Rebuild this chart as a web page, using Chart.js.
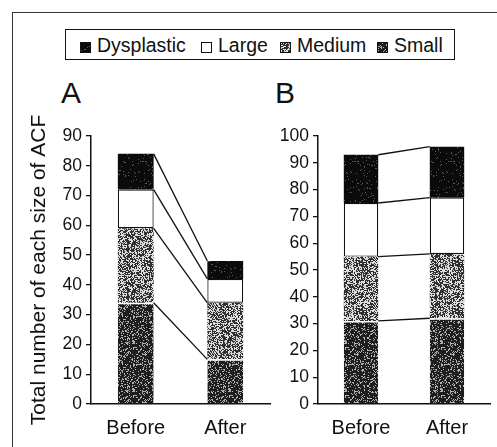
<!DOCTYPE html>
<html>
<head>
<meta charset="utf-8">
<script src="https://cdn.jsdelivr.net/npm/chart.js@4"></script>
<style>
  body { margin: 0; background: #fff; font-family: "Liberation Sans", Arial, sans-serif; color: #111; }
  #page { position: relative; width: 497px; height: 447px; overflow: hidden; }
  .frame { position: absolute; left: 12px; top: 12px; width: 500px; height: 450px; border-left: 1.5px solid #333; border-top: 1.5px solid #333; }
  #legend { position: absolute; left: 65px; top: 29px; width: 388px; height: 29px; border: 1.5px solid #111; }
  .item { position: absolute; top: 0; height: 29px; line-height: 30px; font-size: 19.5px; white-space: nowrap; }
  .mk { display: inline-block; width: 9px; height: 9px; border: 1px solid #111; margin-right: 6px; vertical-align: -1px; background: #fff; }
  .panel { position: absolute; top: 78px; font-size: 30px; line-height: 1; }
  .cv { position: absolute; top: 100px; height: 360px; }
</style>
</head>
<body>
<div id="page">
  <div class="frame"></div>
  <div id="legend">
    <span class="item" style="left:14px"><span class="mk" id="mkDys"></span>Dysplastic</span>
    <span class="item" style="left:135px"><span class="mk"></span>Large</span>
    <span class="item" style="left:214px"><span class="mk" id="mkMed"></span>Medium</span>
    <span class="item" style="left:311px"><span class="mk" id="mkSmall"></span>Small</span>
  </div>
  <div class="panel" style="left:61px">A</div>
  <div class="panel" style="left:275px">B</div>
  <canvas id="chartA" class="cv" style="left:0;width:280px"></canvas>
  <canvas id="chartB" class="cv" style="left:260px;width:237px"></canvas>
</div>
<script>
// data
const periods = ['Before', 'After'];
const sizeNames = ['Small', 'Medium', 'Large', 'Dysplastic'];

const smallA = [34, 15];
const mediumA = [25, 19];
const largeA = [13, 8];
const dysA = [12, 6];
const maxA = 90;

const smallB = [31, 32];
const mediumB = [24, 24];
const largeB = [20, 21];
const dysB = [18, 19];
const maxB = 100;

const yTitle = 'Total number of each size of ACF';

// stipple tiles, like the scanned halftone
function speckle(base, dots, density, seed) {
    var c = document.createElement('canvas');
    c.width = c.height = 48;
    var g = c.getContext('2d');
    g.fillStyle = base;
    g.fillRect(0, 0, 48, 48);
    g.fillStyle = dots;
    var s = seed;
    for (var y = 0; y < 48; y++) {
        for (var x = 0; x < 48; x++) {
            s = (s * 1103515245 + 12345) & 0x7fffffff;
            if (((s >> 16) % 1000) < density * 1000) g.fillRect(x, y, 1, 1);
        }
    }
    return c;
}
const tileSmall = speckle('#1e1e1e', '#b0b0b0', 0.22, 7);
const tileMed = speckle('#303030', '#dcdcdc', 0.46, 11);
const tileDys = speckle('#0b0b0b', '#5a5a5a', 0.06, 3);

document.getElementById('mkSmall').style.background = 'url(' + tileSmall.toDataURL() + ')';
document.getElementById('mkMed').style.background = 'url(' + tileMed.toDataURL() + ')';
document.getElementById('mkDys').style.background = 'url(' + tileDys.toDataURL() + ')';

// lines joining the segment tops of the two bars
const connectors = {
    id: 'connectors',
    afterDatasetsDraw(chart) {
        var ctx = chart.ctx;
        ctx.save();
        ctx.strokeStyle = '#111';
        ctx.lineWidth = 1.3;
        chart.data.datasets.forEach((ds, i) => {
            var bars = chart.getDatasetMeta(i).data;
            var a = bars[0], b = bars[1];
            ctx.beginPath();
            ctx.moveTo(a.x + a.width / 2, a.y);
            ctx.lineTo(b.x - b.width / 2, b.y);
            ctx.stroke();
        });
        ctx.restore();
    }
};

function makeChart(id, small, medium, large, dys, maxY, showTitle, yWidth, padLeft, padRight) {
    var canvas = document.getElementById(id);
    var ctx = canvas.getContext('2d');
    var bar = { barPercentage: 0.4, categoryPercentage: 1, borderWidth: 0 };
    return new Chart(ctx, {
        type: 'bar',
        data: {
            labels: periods,
            datasets: [
                Object.assign({}, bar, { label: sizeNames[0], data: small, backgroundColor: ctx.createPattern(tileSmall, 'repeat'),
                    borderColor: '#fff', borderWidth: { top: 1.5, left: 0, right: 0, bottom: 0 }, borderSkipped: false }),
                Object.assign({}, bar, { label: sizeNames[1], data: medium, backgroundColor: ctx.createPattern(tileMed, 'repeat') }),
                Object.assign({}, bar, { label: sizeNames[2], data: large, backgroundColor: '#fff',
                    borderColor: '#111', borderWidth: 1.2, borderSkipped: false }),
                Object.assign({}, bar, { label: sizeNames[3], data: dys, backgroundColor: ctx.createPattern(tileDys, 'repeat') })
            ]
        },
        options: {
            responsive: false,
            animation: false,
            layout: { padding: { top: 36, left: padLeft, right: padRight, bottom: 8 } },
            plugins: { legend: { display: false }, tooltip: { enabled: false } },
            scales: {
                x: {
                    stacked: true,
                    grid: { display: false, drawTicks: false },
                    border: { display: true, color: '#111', width: 1.5 },
                    ticks: { color: '#111', padding: 12, font: { family: 'Liberation Sans', size: 20 } }
                },
                y: {
                    stacked: true,
                    min: 0,
                    max: maxY,
                    afterFit: (scale) => { scale.width = yWidth; },
                    grid: { drawOnChartArea: false, drawTicks: true, tickLength: 5, color: '#111', lineWidth: 1.3 },
                    border: { display: true, color: '#111', width: 1.5 },
                    ticks: { stepSize: 10, color: '#111', padding: 4, font: { family: 'Liberation Sans', size: 17.5 } },
                    title: { display: showTitle, text: yTitle, color: '#111', font: { family: 'Liberation Sans', size: 21 } }
                }
            }
        },
        plugins: [connectors]
    });
}

var cA = document.getElementById('chartA');
cA.width = 280; cA.height = 360;
var cB = document.getElementById('chartB');
cB.width = 237; cB.height = 360;

makeChart('chartA', smallA, mediumA, largeA, dysA, maxA, true, 68, 23, 10);
makeChart('chartB', smallB, mediumB, largeB, dysB, maxB, false, 58, 0, 7);
</script>
</body>
</html>
